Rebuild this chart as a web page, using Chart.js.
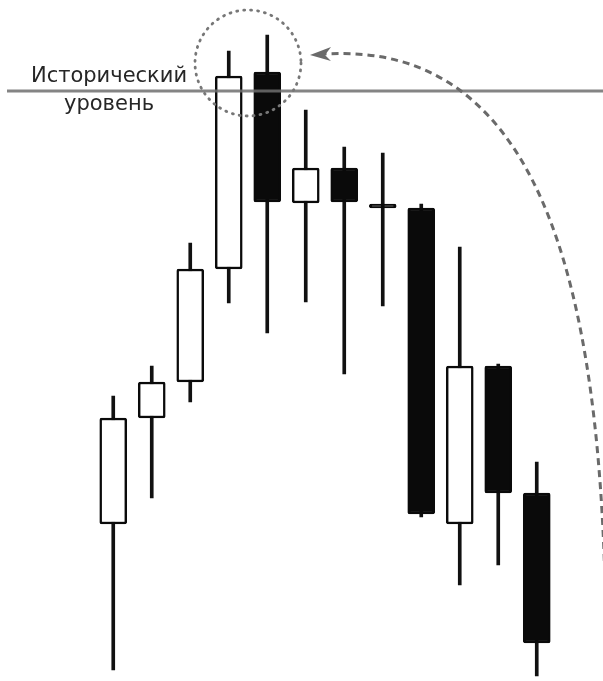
<!DOCTYPE html>
<html>
<head>
<meta charset="utf-8">
<script src="https://cdn.jsdelivr.net/npm/chart.js@4.4.1/dist/chart.umd.min.js"></script>
<style>
  html, body { margin: 0; padding: 0; background: #fff; }
  #wrap { width: 603px; height: 681px; }
</style>
</head>
<body>
<div id="wrap"><canvas id="chart" width="603" height="681"></canvas></div>
<script>
// Свечи (цена в условных единицах)
const candleLabels = ['1', '2', '3', '4', '5', '6', '7', '8', '9', '10', '11', '12'];
const openPrices  = [157, 263, 299, 412, 609, 478, 513, 473, 473, 157, 315, 188];
const closePrices = [263, 299, 412, 605, 479, 513, 479, 473, 167, 315, 188, 38];
const highPrices  = [285, 315, 438, 630, 646, 571, 534, 528, 477, 434, 317, 219];
const lowPrices   = [11, 183, 279, 378, 348, 379, 307, 375, 164, 96, 116, 5];

const historicLevel = 590;
const levelText = ['Исторический', 'уровень'];

const bodies = openPrices.map((o, i) => [o, closePrices[i]]);
const wicks = lowPrices.map((l, i) => [l, highPrices[i]]);
const bodyColors = openPrices.map((o, i) => closePrices[i] > o ? '#ffffff' : '#0a0a0a');

// Горизонтальный уровень, пунктирный круг и стрелка
const annotations = {
  id: 'annotations',
  afterDatasetsDraw(chart) {
    const ctx = chart.ctx;
    const x = chart.scales.x;
    const y = chart.scales.y;
    const W = chart.width, H = chart.height;
    const levelY = y.getPixelForValue(historicLevel);

    ctx.save();
    // линия уровня
    ctx.strokeStyle = 'rgba(110,110,110,0.85)';
    ctx.lineWidth = 3;
    ctx.beginPath();
    ctx.moveTo(7, levelY);
    ctx.lineTo(W, levelY);
    ctx.stroke();

    // подпись
    ctx.fillStyle = '#262626';
    ctx.font = '21px "DejaVu Sans"';
    ctx.textAlign = 'center';
    ctx.textBaseline = 'alphabetic';
    ctx.fillText(levelText[0], 109, levelY - 9);
    ctx.fillText(levelText[1], 109, levelY + 19);

    // круг вокруг вершины
    const cx = (x.getPixelForValue(3) + x.getPixelForValue(4)) / 2;
    const cy = levelY - 28;
    const r = 53;
    ctx.strokeStyle = '#777';
    ctx.lineWidth = 2.8;
    ctx.lineCap = 'round';
    ctx.setLineDash([1, 6]);
    ctx.beginPath();
    ctx.arc(cx, cy, r, 0, Math.PI * 2);
    ctx.stroke();

    // пунктирная дуга
    const tipX = cx + r + 9, tipY = cy - 8;
    ctx.strokeStyle = '#6a6a6a';
    ctx.lineWidth = 3;
    ctx.lineCap = 'butt';
    ctx.setLineDash([7, 5]);
    ctx.beginPath();
    ctx.moveTo(W + 3, H);
    ctx.bezierCurveTo(W + 5, 300, 548, 40, tipX + 14, tipY - 1);
    ctx.stroke();

    // наконечник
    ctx.setLineDash([]);
    ctx.fillStyle = '#6a6a6a';
    ctx.beginPath();
    ctx.moveTo(tipX, tipY);
    ctx.lineTo(tipX + 21, tipY - 8);
    ctx.lineTo(tipX + 15, tipY);
    ctx.lineTo(tipX + 21, tipY + 6);
    ctx.closePath();
    ctx.fill();
    ctx.restore();
  }
};

new Chart(document.getElementById('chart'), {
  type: 'bar',
  data: {
    labels: candleLabels,
    datasets: [
      {
        label: 'Тело',
        data: bodies,
        backgroundColor: bodyColors,
        borderColor: '#0a0a0a',
        borderWidth: 2.5,
        borderSkipped: false,
        borderRadius: 2,
        barThickness: 27,
        minBarLength: 4,
        grouped: false,
        order: 0
      },
      {
        label: 'Тень',
        data: wicks,
        backgroundColor: '#111',
        borderWidth: 0,
        barThickness: 3,
        grouped: false,
        order: 1
      }
    ]
  },
  options: {
    responsive: false,
    animation: false,
    layout: { padding: { left: 94, right: 47, top: 0, bottom: 0 } },
    plugins: {
      legend: { display: false },
      tooltip: { enabled: false }
    },
    scales: {
      x: { display: false },
      y: { display: false, min: 0, max: 681 }
    }
  },
  plugins: [annotations]
});
</script>
</body>
</html>
